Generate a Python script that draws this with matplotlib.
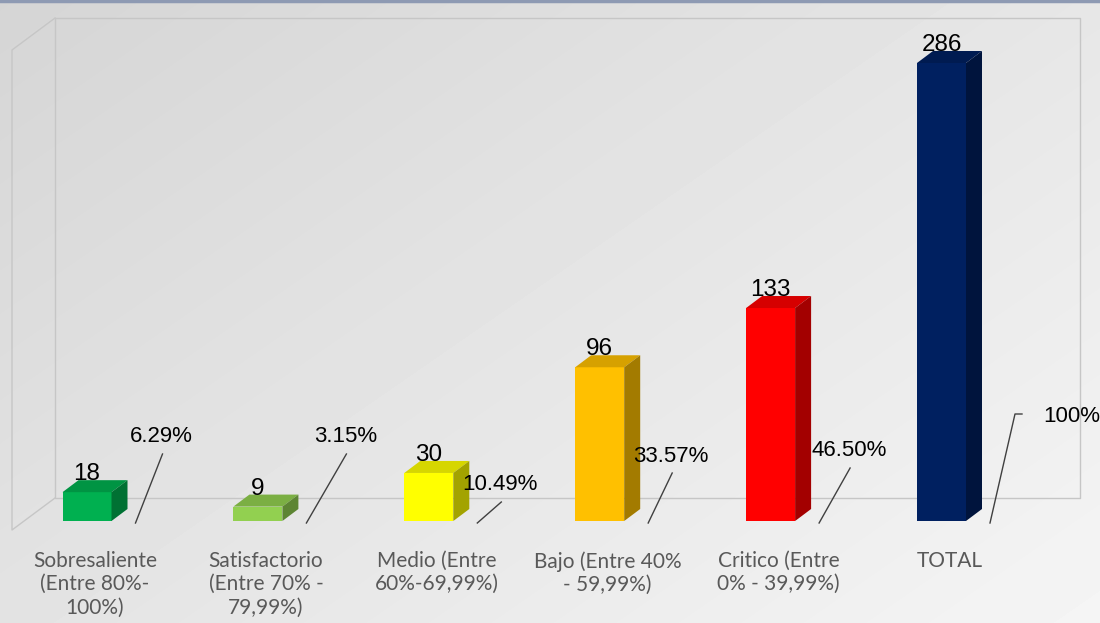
import numpy as np
import matplotlib
matplotlib.use("Agg")
import matplotlib.pyplot as plt
from matplotlib.patches import Polygon
from matplotlib.colors import to_rgb

categories = [
    "Sobresaliente\n(Entre 80%-\n100%)",
    "Satisfactorio\n(Entre 70% -\n79,99%)",
    "Medio (Entre\n60%-69,99%)",
    "Bajo (Entre 40%\n- 59,99%)",
    "Critico (Entre\n0% - 39,99%)",
    "TOTAL",
]
counts = [18, 9, 30, 96, 133, 286]
pct_labels = ["6.29%", "3.15%", "10.49%", "33.57%", "46.50%", "100%"]
colors = ["#00B050", "#92D050", "#FFFF00", "#FFC000", "#FF0000", "#002060"]

# leader line end, in pixels from the line start (layout only)
leaders = [(27, 69), (40, 69), (24, 21), (24, 50), (31, 55), (25, 109)]

W, H = 1100, 623
fig = plt.figure(figsize=(11, 6.23), dpi=100)

# background: gradient + 3d walls
bg = fig.add_axes([0, 0, 1, 1])
bg.set_xlim(0, W)
bg.set_ylim(H, 0)
bg.axis("off")
yy, xx = np.mgrid[0:H, 0:W]
t = 0.55 * xx / W + 0.45 * yy / H
shade = 0.835 + 0.125 * t
bg.imshow(shade, cmap="gray", vmin=0, vmax=1, extent=(0, W, H, 0), aspect="auto")
wall = "#c6c6c6"
bg.plot([55, 1080, 1080, 55, 55], [18, 18, 498, 498, 18], color=wall, lw=1)
bg.plot([55, 12, 12, 55], [18, 50, 530, 498], color=wall, lw=1)
bg.plot([0, W], [1, 1], color="#8e9ab3", lw=2.5)

# data axes, scaled so one category = 170.9 px and one unit = 458/286 px
x0, step = 87, 170.9
base, s = 102, 458 / 286
ax = fig.add_axes([0, 0, 1, 1])
ax.set_xlim(-x0 / step, (W - x0) / step)
ax.set_ylim(-base / s, (H - base) / s)
ax.axis("off")

bw = 49 / step
ddx, ddy = 16 / step, 12 / s
num_font = ["Liberation Sans", "DejaVu Sans"]

for i, (v, c) in enumerate(zip(counts, colors)):
    l, r = i - bw / 2, i + bw / 2
    rgb = np.array(to_rgb(c))
    ax.add_patch(Polygon([(l, 0), (r, 0), (r, v), (l, v)], closed=True, fc=c, ec="none"))
    ax.add_patch(Polygon([(l, v), (r, v), (r + ddx, v + ddy), (l + ddx, v + ddy)],
                         closed=True, fc=rgb * 0.84, ec="none"))
    ax.add_patch(Polygon([(r, 0), (r + ddx, ddy), (r + ddx, v + ddy), (r, v)],
                         closed=True, fc=rgb * 0.64, ec="none"))
    ax.text(i, v + ddy - 5 / s, str(v), ha="center", va="bottom", fontsize=17.5,
            family=num_font, color="black")

    # percentage label with leader line
    sx, sy = i + 48.5 / step, -2 / s
    ex, ey = sx + leaders[i][0] / step, sy + leaders[i][1] / s
    if i == len(counts) - 1:
        ax.plot([sx, ex, ex + 7 / step], [sy, ey, ey], color="#404040", lw=1)
        ax.text(ex + 28 / step, ey - 3 / s, pct_labels[i], ha="left", va="center",
                fontsize=16, family=num_font, color="black")
    else:
        ax.plot([sx, ex], [sy, ey], color="#404040", lw=1)
        ax.text(ex - 1 / step, ey + 17 / s, pct_labels[i], ha="center", va="center",
                fontsize=16, family=num_font, color="black")

    ax.text(i + ddx / 2, -30 / s, categories[i], ha="center", va="top", fontsize=15,
            family=["Lato", "DejaVu Sans"], color="#595959", linespacing=1.2)

fig.savefig("out.png", dpi=100)
